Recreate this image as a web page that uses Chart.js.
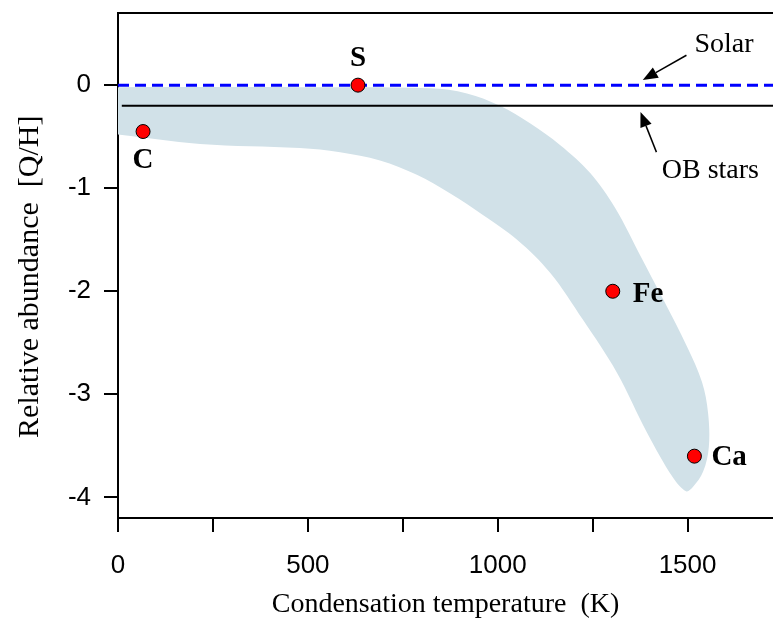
<!DOCTYPE html>
<html>
<head>
<meta charset="utf-8">
<script src="https://cdn.jsdelivr.net/npm/chart.js@4.4.0/dist/chart.umd.min.js"></script>
<style>
  html, body { margin: 0; padding: 0; background: #fff; }
</style>
</head>
<body>
<canvas id="abundance" width="773" height="621"></canvas>
<script>
const elements = ['C', 'S', 'Fe', 'Ca'];
const condTemp = [66, 632, 1303, 1518];
const abundance = [-0.45, 0.0, -2.0, -3.6];

const solarLevel = 0;
const obStarsLevel = -0.2;

const xTicks = [0, 250, 500, 750, 1000, 1250, 1500];
const yTicks = [-4, -3, -2, -1, 0];

// outline of the shaded depletion band: along the top edge, round the tip, back along the bottom
const bandTemp = [-30, 479, 822, 919, 1006, 1085, 1164, 1243, 1309, 1375, 1436, 1499, 1538, 1554, 1556, 1541, 1514, 1496,
  1462, 1393, 1314, 1225, 1138, 1051, 961, 874, 787, 690, 585, 479, 216, 0, -30];
const bandAbund = [-0.02, -0.02, -0.03, -0.08, -0.20, -0.37, -0.58, -0.85, -1.19, -1.65, -2.08, -2.54, -2.88, -3.18, -3.51, -3.75, -3.90, -3.94,
  -3.81, -3.37, -2.79, -2.28, -1.82, -1.50, -1.26, -1.05, -0.87, -0.73, -0.65, -0.61, -0.57, -0.48, -0.47];

const serif = '"Liberation Serif", "Times New Roman", serif';
const sans = '"Liberation Sans", Arial, sans-serif';

// where each element name sits relative to its marker
const labelPlacement = { C: [0, 29, 'center'], S: [0, -27, 'center'], Fe: [20, 3, 'left'], Ca: [17, 1, 'left'] };

// text + arrow notes, in data units
const notes = [
  { text: 'Solar', at: [1518, 0.39], from: [1497, 0.29], to: [1382, 0.05] },
  { text: 'OB stars', at: [1432, -0.83], from: [1418, -0.65], to: [1376, -0.26] }
];

function drawArrow(ctx, x1, y1, x2, y2) {
  const ang = Math.atan2(y2 - y1, x2 - x1);
  const len = 15, half = 6;
  const bx = x2 - len * Math.cos(ang), by = y2 - len * Math.sin(ang);
  ctx.beginPath();
  ctx.moveTo(x1, y1);
  ctx.lineTo(bx, by);
  ctx.stroke();
  ctx.beginPath();
  ctx.moveTo(x2, y2);
  ctx.lineTo(bx + half * Math.sin(ang), by - half * Math.cos(ang));
  ctx.lineTo(bx - half * Math.sin(ang), by + half * Math.cos(ang));
  ctx.closePath();
  ctx.fill();
}

const annotations = {
  id: 'annotations',
  afterDatasetsDraw(chart) {
    const { ctx, chartArea, scales: { x, y } } = chart;
    ctx.save();

    // top frame line
    ctx.strokeStyle = '#000';
    ctx.lineWidth = 2;
    ctx.beginPath();
    ctx.moveTo(chartArea.left, chartArea.top);
    ctx.lineTo(chartArea.right, chartArea.top);
    ctx.stroke();

    // element names
    ctx.fillStyle = '#000';
    ctx.font = 'bold 29px ' + serif;
    ctx.textBaseline = 'middle';
    chart.getDatasetMeta(0).data.forEach((pt, i) => {
      const p = labelPlacement[elements[i]];
      ctx.textAlign = p[2];
      ctx.fillText(elements[i], pt.x + p[0], pt.y + p[1]);
    });

    // Solar / OB stars notes
    ctx.font = '28px ' + serif;
    ctx.textAlign = 'left';
    ctx.lineWidth = 1.5;
    notes.forEach(n => {
      ctx.fillText(n.text, x.getPixelForValue(n.at[0]), y.getPixelForValue(n.at[1]));
      drawArrow(ctx,
        x.getPixelForValue(n.from[0]), y.getPixelForValue(n.from[1]),
        x.getPixelForValue(n.to[0]), y.getPixelForValue(n.to[1]));
    });
    ctx.restore();
  }
};

new Chart(document.getElementById('abundance'), {
  type: 'scatter',
  data: {
    datasets: [{
      label: 'Elements',
      data: condTemp.map((t, i) => ({ x: t, y: abundance[i] })),
      pointRadius: 7,
      pointBackgroundColor: '#ff0000',
      pointBorderColor: '#000',
      pointBorderWidth: 1
    }, {
      label: 'OB stars',
      data: [{ x: 10, y: obStarsLevel }, { x: 1800, y: obStarsLevel }],
      showLine: true,
      borderColor: '#000',
      borderWidth: 2,
      pointRadius: 0
    }, {
      label: 'Solar',
      data: [{ x: 0, y: solarLevel }, { x: 1800, y: solarLevel }],
      showLine: true,
      borderColor: '#0000ff',
      borderWidth: 3,
      borderDash: [11, 6],
      pointRadius: 0
    }, {
      label: 'Depletion band',
      data: bandTemp.map((t, i) => ({ x: t, y: bandAbund[i] })),
      showLine: true,
      fill: 'shape',
      backgroundColor: '#d1e1e8',
      borderColor: 'rgba(0,0,0,0)',
      borderWidth: 0,
      pointRadius: 0,
      tension: 0.35
    }]
  },
  options: {
    responsive: false,
    animation: false,
    layout: { autoPadding: false, padding: { top: 13, left: 0, right: 0, bottom: 0 } },
    plugins: {
      legend: { display: false },
      tooltip: { enabled: false }
    },
    scales: {
      x: {
        type: 'linear',
        min: 0,
        max: 1725,
        afterBuildTicks: s => { s.ticks = xTicks.map(v => ({ value: v })); },
        afterFit: s => { s.height = 103; s.paddingLeft = 0; s.paddingRight = 0; },
        ticks: {
          autoSkip: false,
          maxRotation: 0,
          padding: 18,
          color: '#000',
          font: { family: sans, size: 26 },
          callback: v => (v % 500 === 0 ? v : '')
        },
        grid: { drawOnChartArea: false, drawTicks: true, tickLength: 14, color: '#000', lineWidth: 2 },
        border: { color: '#000', width: 2 },
        title: {
          display: true,
          text: 'Condensation temperature  (K)',
          color: '#000',
          font: { family: serif, size: 28 },
          padding: { top: 0, bottom: 0 }
        }
      },
      y: {
        min: -4.2,
        max: 0.7,
        afterBuildTicks: s => { s.ticks = yTicks.map(v => ({ value: v })); },
        afterFit: s => { s.width = 118; s.paddingTop = 0; s.paddingBottom = 0; },
        ticks: {
          padding: 13,
          color: '#000',
          font: { family: sans, size: 26 }
        },
        grid: { drawOnChartArea: false, drawTicks: true, tickLength: 14, color: '#000', lineWidth: 2 },
        border: { color: '#000', width: 2 },
        title: {
          display: true,
          // trailing blanks nudge the centred title down to where the original sits
          text: 'Relative abundance  [Q/H]\u00a0\u00a0\u00a0',
          color: '#000',
          font: { family: serif, size: 30 },
          padding: { top: 12, bottom: 0 }
        }
      }
    }
  },
  plugins: [annotations]
});
</script>
</body>
</html>
